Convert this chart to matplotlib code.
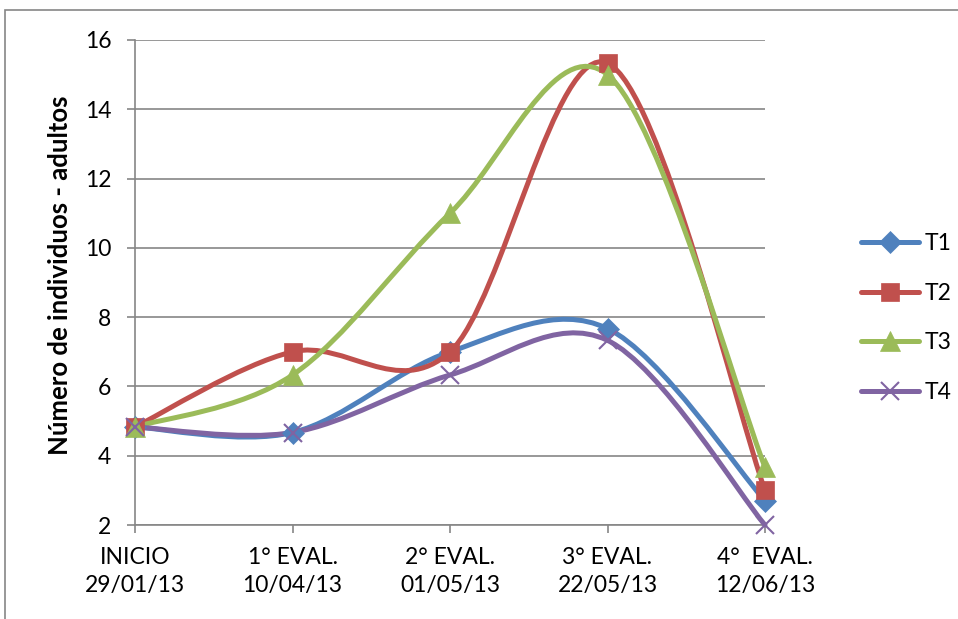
import matplotlib
matplotlib.use("Agg")
import matplotlib.pyplot as plt
from matplotlib.path import Path
from matplotlib.patches import PathPatch, Rectangle
from matplotlib.lines import Line2D

plt.rcParams['font.family'] = ['Lato', 'DejaVu Sans']

# Evaluaciones
fechas = ['INICIO\n29/01/13', '1° EVAL.\n10/04/13', '2° EVAL.\n01/05/13',
          '3° EVAL.\n22/05/13', '4°  EVAL.\n12/06/13']

# Número de individuos adultos por tratamiento
t1 = [4.83, 4.67, 7.0, 7.67, 2.7]
t2 = [4.83, 7.0, 7.0, 15.33, 3.0]
t3 = [4.83, 6.33, 11.0, 15.0, 3.67]
t4 = [4.83, 4.67, 6.33, 7.33, 2.0]

series = [
    ('T1', t1, '#4F81BD', 'D', 11),
    ('T2', t2, '#C0504D', 's', 13),
    ('T3', t3, '#9BBB59', '^', 14),
    ('T4', t4, '#8064A2', 'x', 13),
]


def curva_suave(xs, ys):
    # Curva de Bezier tipo Catmull-Rom (como la linea suavizada de Excel)
    pts = list(zip(xs, ys))
    n = len(pts)
    verts = [pts[0]]
    codes = [Path.MOVETO]
    for i in range(n - 1):
        p0 = pts[i - 1] if i > 0 else pts[i]
        p1 = pts[i]
        p2 = pts[i + 1]
        p3 = pts[i + 2] if i + 2 < n else pts[i + 1]
        c1 = (p1[0] + (p2[0] - p0[0]) / 6, p1[1] + (p2[1] - p0[1]) / 6)
        c2 = (p2[0] - (p3[0] - p1[0]) / 6, p2[1] - (p3[1] - p1[1]) / 6)
        verts += [c1, c2, p2]
        codes += [Path.CURVE4] * 3
    return Path(verts, codes)


fig = plt.figure(figsize=(9.58, 6.19), dpi=100)
ax = fig.add_axes([135 / 958, 94 / 619, 630 / 958, 485 / 619])

x = list(range(len(fechas)))
handles = []
for nombre, ys, color, marca, tam in series:
    patch = PathPatch(curva_suave(x, ys), fill=False, edgecolor=color, lw=3.6,
                      capstyle='round', joinstyle='round', clip_on=False, zorder=3)
    ax.add_patch(patch)
    mew = 1.5 if marca == 'x' else 0.5
    ax.plot(x, ys, linestyle='none', marker=marca, markersize=tam, color=color,
            markeredgecolor=color, markeredgewidth=mew, clip_on=False, zorder=4)
    handles.append(Line2D([], [], color=color, lw=3.6, marker=marca,
                          markersize=tam, markeredgecolor=color,
                          markeredgewidth=mew, solid_capstyle='round'))

ax.set_xlim(0, 4)
ax.set_ylim(2, 16)
ax.set_yticks(range(2, 17, 2))
ax.set_xticks(x)
ax.set_xticklabels(fechas, fontsize=16.5, linespacing=1.4)
ax.tick_params(axis='y', labelsize=16.5, length=6, width=1.2, color='#868686', pad=11)
ax.tick_params(axis='x', length=6, width=1.2, color='#868686', pad=10)

ax.grid(axis='y', color='#868686', lw=1.2)
ax.set_axisbelow(True)
for lado in ['top', 'right']:
    ax.spines[lado].set_visible(False)
for lado in ['left', 'bottom']:
    ax.spines[lado].set_color('#868686')
    ax.spines[lado].set_linewidth(1.2)

ax.set_ylabel('Número de individuos - adultos', fontsize=18.5, fontweight='bold')
ax.yaxis.set_label_coords(-0.1, 0.515)

ax.legend(handles, ['T1', 'T2', 'T3', 'T4'], loc='center left',
          bbox_to_anchor=(1.12, 0.427), frameon=False, fontsize=16.5,
          handlelength=2.5, handletextpad=0.25, labelspacing=1.25, numpoints=1)

# Marco del grafico
fig.patches.append(Rectangle((5 / 958, -0.01), 1.0, (609 / 619) + 0.01,
                             transform=fig.transFigure, fill=False,
                             edgecolor='#868686', lw=1.2))

fig.savefig('out.png', dpi=100)
